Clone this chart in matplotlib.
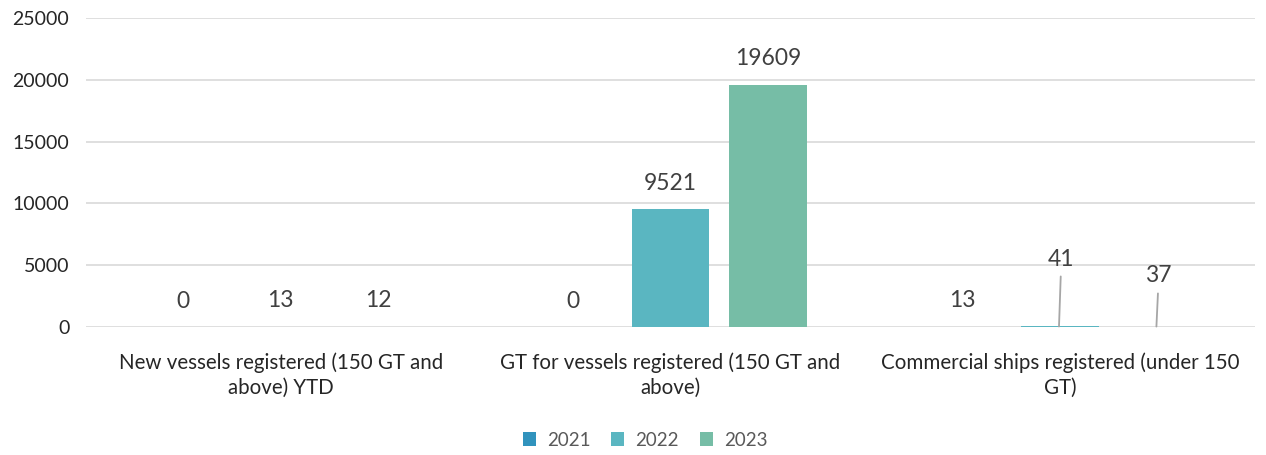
import matplotlib.pyplot as plt
import numpy as np

categories = [
    "New vessels registered (150 GT and\nabove) YTD",
    "GT for vessels registered (150 GT and\nabove)",
    "Commercial ships registered (under 150\nGT)",
]
years = ["2021", "2022", "2023"]
values_2021 = [0, 0, 13]
values_2022 = [13, 9521, 41]
values_2023 = [12, 19609, 37]
colors = ["#3193BD", "#5AB6C1", "#76BDA6"]
yticks = [0, 5000, 10000, 15000, 20000, 25000]

plt.rcParams["font.family"] = ["Lato", "DejaVu Sans"]

fig = plt.figure(figsize=(12.66, 4.55), dpi=100)
ax = fig.add_axes([86 / 1266, 1 - 327 / 455, (1255 - 86) / 1266, (327 - 18) / 455])

series = [values_2021, values_2022, values_2023]
x = np.arange(len(categories))
width = 0.2
step = 0.25
for i, (yr, vals) in enumerate(zip(years, series)):
    pos = x + (i - 1) * step
    ax.bar(pos, vals, width, color=colors[i], label=yr, zorder=3, linewidth=0)
    for j, (p, v) in enumerate(zip(pos, vals)):
        if j == 2 and i > 0:
            # small bars in the last group: labels raised with leader lines
            lift = 5460 if i == 1 else 4090
            ax.annotate(str(v), xy=(p - 0.003, v), xytext=(p + 0.003, v + lift),
                        ha="center", va="center", fontsize=16.5, color="#404040",
                        arrowprops=dict(arrowstyle="-", color="#A6A6A6", lw=1.3,
                                        shrinkA=3, shrinkB=0))
        else:
            ax.annotate(str(v), xy=(p, v), xytext=(0, 26), textcoords="offset pixels",
                        ha="center", va="center", fontsize=16.5, color="#404040")

ax.set_xlim(-0.5, 2.5)
ax.set_ylim(0, 25000)
ax.set_yticks(yticks)
ax.set_yticklabels([str(t) for t in yticks], fontsize=14, color="#262626")
ax.set_xticks(x)
ax.set_xticklabels(categories, fontsize=14.8, color="#262626", linespacing=1.3)
ax.tick_params(axis="both", length=0, pad=12)
ax.tick_params(axis="x", pad=18)
ax.grid(axis="y", color="#D9D9D9", lw=1.2, zorder=0)
for s in ax.spines.values():
    s.set_visible(False)

ax.legend(loc="center", bbox_to_anchor=(645 / 1266, (455 - 440) / 455), bbox_transform=fig.transFigure,
          ncol=3, frameon=False, fontsize=13.5, handlelength=0.7, handleheight=0.7,
          handletextpad=0.6, columnspacing=1.1, labelcolor="#595959")

fig.savefig("out.png", dpi=100)
